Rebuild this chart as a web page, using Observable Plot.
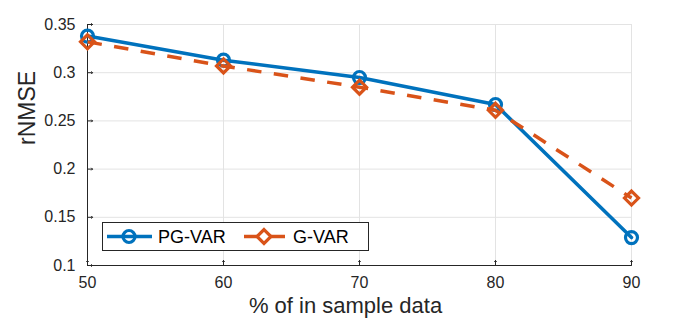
<!DOCTYPE html>
<html>
<head>
<meta charset="utf-8">
<script src="https://cdn.jsdelivr.net/npm/d3@7"></script>
<script src="https://cdn.jsdelivr.net/npm/@observablehq/plot@0.6"></script>
<style>
  html, body { margin: 0; padding: 0; background: #fff; }
  #wrap { position: relative; width: 699px; height: 318px; }
  #legend { position: absolute; left: 102px; top: 222px; }
</style>
</head>
<body>
<div id="wrap"></div>
<script>
const xValues = [50, 60, 70, 80, 90];
const pgVar = [0.338, 0.313, 0.295, 0.267, 0.129];
const gVar = [0.332, 0.307, 0.285, 0.261, 0.170];
const xTicks = [50, 60, 70, 80, 90];
const yTicks = [0.1, 0.15, 0.2, 0.25, 0.3, 0.35];
const yTickLabels = ["0.1", "0.15", "0.2", "0.25", "0.3", "0.35"];
const seriesNames = ["PG-VAR", "G-VAR"];
const xLabel = "% of in sample data";
const yLabel = "rNMSE";

const blue = "#0072BD", orange = "#D95319", ink = "#262626", grid = "#e3e3e3";
const font = "'Liberation Sans', Arial, sans-serif";
const dash = "14.5,12.5";

const pgData = xValues.map((x, i) => ({x, y: pgVar[i]}));
const gData = xValues.map((x, i) => ({x, y: gVar[i]}));

const chart = Plot.plot({
  width: 699, height: 318,
  marginLeft: 87, marginRight: 68, marginTop: 24, marginBottom: 53,
  style: {fontFamily: font, color: ink, background: "#fff", overflow: "visible"},
  x: {domain: [50, 90]},
  y: {domain: [0.1, 0.35]},
  marks: [
    Plot.gridY(yTicks, {stroke: grid, strokeOpacity: 1, strokeWidth: 1}),
    Plot.gridX(xTicks, {stroke: grid, strokeOpacity: 1, strokeWidth: 1}),
    Plot.ruleY([0.1], {stroke: ink, strokeWidth: 1}),
    Plot.ruleX([50], {stroke: ink, strokeWidth: 1}),
    Plot.vector(xTicks, {x: d => d, y: () => 0.1, length: 5, anchor: "start", rotate: 0, stroke: ink, strokeWidth: 1}),
    Plot.vector(yTicks, {x: () => 50, y: d => d, length: 5, anchor: "start", rotate: 90, stroke: ink, strokeWidth: 1}),
    Plot.axisX({ticks: xTicks, tickSize: 0, tickPadding: 11, fontSize: 16, label: null, tickFormat: d => String(d)}),
    Plot.axisY({ticks: yTicks, tickSize: 0, tickPadding: 12, fontSize: 16, label: null, tickFormat: (d, i) => yTickLabels[i]}),
    Plot.text([xLabel], {frameAnchor: "bottom", dy: 32, dx: -14, lineAnchor: "top", fontSize: 22, fill: ink}),
    Plot.text([yLabel], {frameAnchor: "left", dx: -60, rotate: -90, fontSize: 23, fill: ink}),
    Plot.line(pgData, {x: "x", y: "y", stroke: blue, strokeWidth: 3.5}),
    Plot.dot(pgData, {x: "x", y: "y", r: 6, stroke: blue, strokeWidth: 3.2, fill: "none"}),
    Plot.line(gData, {x: "x", y: "y", stroke: orange, strokeWidth: 3.5, strokeDasharray: dash, strokeLinecap: "butt"}),
    Plot.dot(gData, {x: "x", y: "y", r: 6.3, symbol: "diamond2", stroke: orange, strokeWidth: 3.2, fill: "none"})
  ]
});
const wrap = document.getElementById("wrap");
wrap.appendChild(chart);

// legend overlay
const lg = d3.select(wrap).append("svg").attr("id", "legend")
  .attr("width", 267).attr("height", 29)
  .style("font-family", font);
lg.append("rect").attr("x", 0.5).attr("y", 0.5).attr("width", 266).attr("height", 28)
  .attr("fill", "#fff").attr("stroke", ink).attr("stroke-width", 1);
const entries = [
  {name: seriesNames[0], color: blue, x0: 5, x1: 50, mx: 27, tx: 56, sym: "circle", dash: null},
  {name: seriesNames[1], color: orange, x0: 142, x1: 184, mx: 162, tx: 191, sym: "diamond", dash: "14,13"}
];
entries.forEach(e => {
  lg.append("line").attr("x1", e.x0).attr("x2", e.x1).attr("y1", 14.5).attr("y2", 14.5)
    .attr("stroke", e.color).attr("stroke-width", 3.5).attr("stroke-dasharray", e.dash);
  if (e.sym === "circle") {
    lg.append("circle").attr("cx", e.mx).attr("cy", 14.5).attr("r", 6)
      .attr("fill", "none").attr("stroke", e.color).attr("stroke-width", 3.2);
  } else {
    lg.append("path").attr("transform", `translate(${e.mx},14.5)`)
      .attr("d", d3.symbol(d3.symbolDiamond2, Math.PI * 6.3 * 6.3)())
      .attr("fill", "none").attr("stroke", e.color).attr("stroke-width", 3.2);
  }
  lg.append("text").attr("x", e.tx).attr("y", 14.5).attr("dy", "0.35em")
    .attr("font-size", 18).attr("fill", "#000").text(e.name);
});
</script>
</body>
</html>
